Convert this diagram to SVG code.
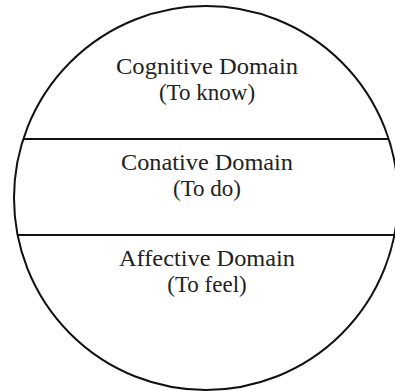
<svg xmlns="http://www.w3.org/2000/svg" width="395" height="391" viewBox="0 0 395 391">
<style>
.t{font-family:"Liberation Serif","Times New Roman",serif;font-size:23px;fill:#222;text-anchor:middle}
.s{fill:none;stroke:#111;stroke-width:2}
</style>
<rect width="395" height="391" fill="#fff"/>
<g id="connectors">
<line class="s" x1="23" y1="139" x2="389" y2="139"/>
<line class="s" x1="18" y1="235" x2="394" y2="235"/>
</g>
<g id="outline"><circle class="s" cx="206" cy="198" r="192"/></g>
<g id="cognitive"><text class="t" x="207" y="74" textLength="182" lengthAdjust="spacingAndGlyphs">Cognitive Domain</text><text class="t" x="207" y="100">(To know)</text></g>
<g id="conative"><text class="t" x="207" y="170" textLength="172" lengthAdjust="spacingAndGlyphs">Conative Domain</text><text class="t" x="207" y="196">(To do)</text></g>
<g id="affective"><text class="t" x="207" y="266" textLength="176" lengthAdjust="spacingAndGlyphs">Affective Domain</text><text class="t" x="207" y="292">(To feel)</text></g>
</svg>
